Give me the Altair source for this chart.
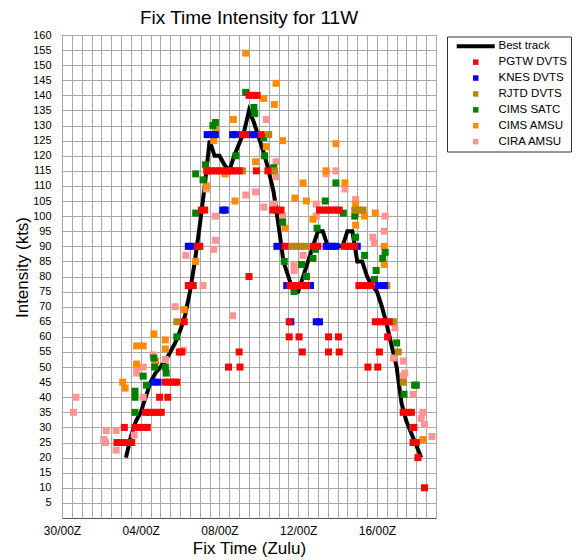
import altair as alt
import pandas as pd

SERIES = ["Best track", "PGTW DVTS", "KNES DVTS", "RJTD DVTS", "CIMS SATC", "CIMS AMSU", "CIRA AMSU"]
COLORS = ["#000000", "#ff0000", "#0000ff", "#b8860b", "#008000", "#ff8c00", "#ff9494"]
BAR_SHAPE = "M-6.94,-0.73L6.94,-0.73L6.94,0.73L-6.94,0.73Z"
SHAPES = [BAR_SHAPE, "square", "square", "square", "square", "square", "square"]

# time = hours after 30/00Z
BEST_H = [78, 84, 90, 96, 102, 108, 114, 120, 126, 132, 138, 144, 150, 156, 162, 168, 174, 180,
          186, 192, 198, 204, 210, 216, 222, 228, 234, 240, 246, 252, 258, 264, 270, 276, 282,
          288, 294, 300, 306, 312, 318, 324, 330, 336, 342, 348, 354, 360, 366, 372, 378, 384,
          390, 396, 402, 408, 414, 420, 426, 432, 438]
BEST_KT = [20, 27, 32, 35, 40, 45, 48, 50, 52, 55, 58, 62, 67, 75, 85, 97, 110, 125,
           120, 120, 117, 115, 120, 124, 128, 135, 131, 126, 121, 115, 108, 97, 85, 80, 75,
           75, 80, 85, 90, 95, 95, 90, 90, 90, 90, 95, 95, 85, 85, 80, 77, 75,
           70, 64, 57, 50, 38, 32, 28, 24, 20]

PGTW_H = [67, 73, 79, 85, 76, 89, 94, 99, 104, 102, 107, 112, 117, 121, 119, 129,
          126, 131, 136, 140, 143, 146, 149, 154, 157, 160, 165, 168, 170, 174,
          177, 182, 187, 192, 197, 202, 207, 211, 216, 203, 217, 216, 220, 224,
          228, 233, 238, 228, 237, 251, 243, 257, 262, 267, 272,
          278, 283, 288, 293, 298, 277, 277, 289, 325, 337, 293, 325, 338,
          306, 312, 314, 319, 324, 329, 334, 338, 344, 348, 353, 357,
          362, 367, 372, 377, 382, 388, 394, 399, 397, 387, 373, 385,
          416, 421, 426, 429, 428, 432, 434, 442]
PGTW_KT = [25, 25, 25, 25, 30, 30, 30, 30, 30, 35, 35, 35, 35, 35, 40, 40,
           45, 45, 45, 45, 55, 55, 65, 77, 77, 77, 90, 90, 102, 102,
           115, 115, 115, 115, 115, 115, 115, 115, 115, 50, 50, 55, 127, 127,
           140, 140, 140, 80, 115, 115, 127, 102, 102, 102, 90,
           77, 77, 77, 77, 77, 65, 60, 60, 60, 60, 55, 55, 55,
           90, 90, 102, 102, 102, 102, 102, 102, 90, 90, 90, 90,
           77, 77, 77, 77, 65, 65, 65, 65, 60, 55, 50, 50,
           35, 35, 35, 30, 25, 25, 20, 10]

KNES_H = [112, 117, 154, 157, 196, 199, 177, 182, 187, 208, 212, 231, 235,
          262, 322, 326, 330, 334, 360, 274, 303, 386, 393, 279, 310, 314]
KNES_KT = [45, 45, 90, 90, 102, 102, 127, 127, 127, 127, 127, 127, 127,
           90, 90, 90, 90, 90, 90, 77, 77, 77, 77, 65, 65, 65]

RJTD_H = [140, 176, 220, 259, 252, 281, 286, 291, 297, 357, 362, 367, 396, 404, 410, 416, 428]
RJTD_KT = [65, 115, 115, 115, 127, 90, 90, 90, 90, 102, 102, 102, 77, 65, 55, 45, 30]

SATC_H = [89, 89, 89, 103, 99, 127, 113, 126, 112, 140,
          163, 172, 163, 175, 184, 187, 212, 224, 234, 235,
          246, 247, 258, 269, 271, 283, 292, 298, 306, 309, 311,
          321, 334, 343, 357, 358, 369, 381, 383, 391, 394,
          408, 417, 430, 432]
SATC_KT = [35, 40, 42, 44, 47, 48, 50, 50, 53, 60,
           101, 112, 114, 117, 130, 131, 120, 141, 136, 134,
           126, 120, 116, 98, 85, 75, 84, 80, 86, 89, 96,
           105, 111, 101, 100, 93, 87, 79, 82, 86, 88,
           58, 41, 44, 44]

CAMSU_H = [74, 77, 91, 99, 91, 112, 114, 126, 126, 149, 163,
           176, 185, 187, 199, 209, 211, 224, 236, 246, 249,
           259, 261, 269, 272, 284, 294, 298, 306, 322, 334,
           345, 358, 358, 358, 369, 382, 393, 393, 440]
CAMSU_KT = [45, 43, 57, 57, 51, 61, 52, 59, 56, 69, 85,
            110, 125, 129, 114, 132, 105, 154, 118, 139, 123,
            137, 144, 125, 96, 106, 111, 105, 99, 115, 124,
            111, 104, 101, 97, 100, 101, 90, 84, 26]

CIRA_H = [14, 17, 51, 53, 54, 66, 66, 88, 91, 91, 99, 99, 111, 126, 138, 148, 151, 172,
          176, 185, 187, 187, 208, 224, 236, 246, 249, 258, 261, 261, 269, 283, 283, 294,
          310, 310, 322, 334, 345, 358, 379, 381, 393, 394,
          404, 406, 416, 416, 418, 428, 438, 440, 442, 451]
CIRA_KT = [35, 40, 26, 25, 29, 29, 22.5, 27.5, 50, 48, 50, 40, 54, 52.5, 70, 55.6, 87, 77,
           109, 89, 92, 100, 67, 107, 108, 103, 132, 104, 113, 118, 100, 84, 82, 87,
           104, 100, 114, 115, 109, 105.5, 93, 91, 95, 100,
           53, 63, 52, 47, 48, 41, 33, 35, 31, 27]

X_TICK_HOURS = list(range(0, 457, 12))
X_LABEL_HOURS = [0, 96, 192, 288, 384]
X_LABELS = ["30/00Z", "04/00Z", "08/00Z", "12/00Z", "16/00Z"]
Y_TICKS = list(range(5, 161, 5))

label_expr = "''"
for hh, lab in reversed(list(zip(X_LABEL_HOURS, X_LABELS))):
    label_expr = f"datum.value == {hh} ? '{lab}' : ({label_expr})"

# draw order: later series on top
draw = [("CIRA AMSU", CIRA_H, CIRA_KT), ("CIMS AMSU", CAMSU_H, CAMSU_KT),
        ("CIMS SATC", SATC_H, SATC_KT), ("RJTD DVTS", RJTD_H, RJTD_KT),
        ("KNES DVTS", KNES_H, KNES_KT), ("PGTW DVTS", PGTW_H, PGTW_KT)]
rows = []
for name, hs, ks in draw:
    for hh, kk in zip(hs, ks):
        rows.append({"series": name, "h": hh, "kt": kk})
pts = pd.DataFrame(rows)
best = pd.DataFrame({"h": BEST_H, "kt": BEST_KT})

FONT = "Liberation Sans"

x = alt.X("h:Q", scale=alt.Scale(domain=[0, 456], nice=False, zero=False),
          axis=alt.Axis(values=X_TICK_HOURS, labelExpr=label_expr, labelOverlap=False,
                        labelFlush=False, labelFontSize=12, labelPadding=7,
                        title="Fix Time (Zulu)", titleFontSize=17, titleY=35,
                        titleBaseline="alphabetic"))
y = alt.Y("kt:Q", scale=alt.Scale(domain=[0, 160], nice=False),
          axis=alt.Axis(values=Y_TICKS, labelFontSize=11, labelPadding=11,
                        title="Intensity (kts)", titleFontSize=17, titleAngle=270,
                        titleX=-40, titleY=232, titleAlign="center", titleBaseline="middle"))

legend = alt.Legend(title=None, orient="none", legendX=385, legendY=1.5,
                    symbolSize=30, symbolOffset=19, labelOffset=17, padding=4,
                    rowPadding=2.9, strokeColor="#333333", fillColor="white",
                    labelFont=FONT, labelFontSize=11.5, labelColor="black",
                    symbolStrokeWidth=0)

line = alt.Chart(best).mark_line(color="black", strokeWidth=4).encode(x=x, y=y)
points = alt.Chart(pts).mark_point(filled=True, size=49, opacity=1, strokeWidth=0).encode(
    x=x, y=y,
    color=alt.Color("series:N", scale=alt.Scale(domain=SERIES, range=COLORS), legend=legend),
    shape=alt.Shape("series:N", scale=alt.Scale(domain=SERIES, range=SHAPES), legend=legend),
)

chart = alt.layer(line, points).properties(
    width=374, height=483,
    title=alt.TitleParams("Fix Time Intensity for 11W", fontSize=19, fontWeight="normal",
                          font=FONT, anchor="middle", frame="group", offset=7, dy=5.5,
                          color="black"),
    padding={"left": 54, "top": 27, "right": 137, "bottom": 42},
    autosize=alt.AutoSizeParams(type="none"),
).configure_view(stroke="#555555", strokeWidth=1).configure_axis(
    gridColor="#a8a8a8", gridWidth=1, domain=False, ticks=False,
    labelFont=FONT, titleFont=FONT, labelColor="black", titleColor="black",
    titleFontWeight="normal",
)

chart.save("out.html", embed_options={"renderer": "svg", "actions": False})
